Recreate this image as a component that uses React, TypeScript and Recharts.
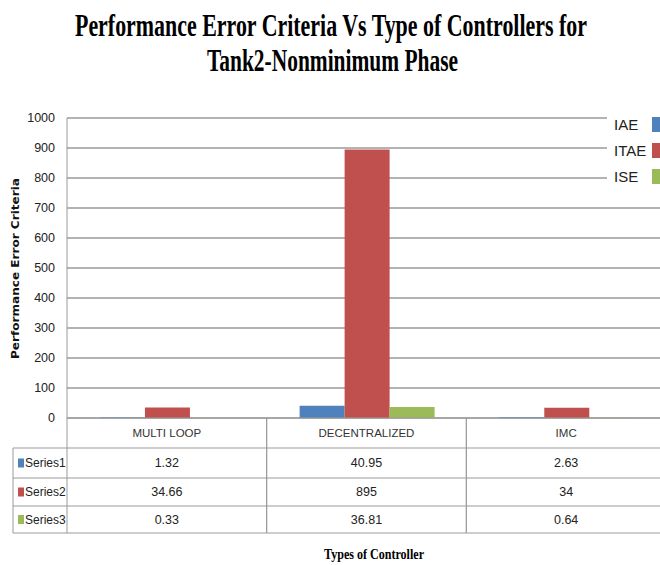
import { BarChart, Bar, XAxis, YAxis, CartesianGrid, Legend } from 'recharts';

const controllers = ['MULTI LOOP', 'DECENTRALIZED', 'IMC'];
const iaeValues = [1.32, 40.95, 2.63];
const itaeValues = [34.66, 895, 34];
const iseValues = [0.33, 36.81, 0.64];
const seriesNames = ['IAE', 'ITAE', 'ISE'];
const tableLabels = ['Series1', 'Series2', 'Series3'];
const yTicks = [0, 100, 200, 300, 400, 500, 600, 700, 800, 900, 1000];

const colors = ['#4F81BD', '#C0504D', '#9BBB59'];
const seriesValues = [iaeValues, itaeValues, iseValues];
const keys = ['iae', 'itae', 'ise'];

const data = controllers.map((name, i) => ({
  name,
  iae: iaeValues[i],
  itae: itaeValues[i],
  ise: iseValues[i],
}));

const sansFont = '"Liberation Sans Narrow", "Liberation Sans", Arial, sans-serif';
const lineColor = '#9a9a9a';
// table row edges, measured down from the x axis line
const rowEdges = [0, 30, 60, 88, 115];

function TableTick(props: any) {
  const { x, y, payload } = props;
  const idx = payload?.index ?? props.index ?? 0;
  const half = typeof payload?.offset === 'number' && payload.offset > 0 ? payload.offset : 100;
  const left = x - half;
  const right = x + half;
  const mid = (a: number, b: number) => y + (rowEdges[a] + rowEdges[b]) / 2;
  return (
    <g>
      <line x1={left} x2={left} y1={y} y2={y + rowEdges[4]} stroke={lineColor} />
      <line x1={right} x2={right} y1={y} y2={y + rowEdges[4]} stroke={lineColor} />
      {rowEdges.slice(1).map((r) => (
        <line key={r} x1={left} x2={right} y1={y + r} y2={y + r} stroke={lineColor} />
      ))}
      <text x={x} y={mid(0, 1)} textAnchor="middle" dominantBaseline="central" fontSize={11.5} fill="#333" fontFamily={sansFont}>
        {payload.value}
      </text>
      {seriesValues.map((vals, s) => (
        <text key={s} x={x} y={mid(s + 1, s + 2)} textAnchor="middle" dominantBaseline="central" fontSize={12.5} fill="#222" fontFamily={sansFont}>
          {String(vals[idx])}
        </text>
      ))}
      {idx === 0 && (
        <g>
          <line x1={left - 54} x2={left - 54} y1={y + rowEdges[1]} y2={y + rowEdges[4]} stroke={lineColor} />
          {rowEdges.slice(1).map((r) => (
            <line key={r} x1={left - 54} x2={left} y1={y + r} y2={y + r} stroke={lineColor} />
          ))}
          {tableLabels.map((lab, s) => (
            <g key={lab}>
              <rect x={left - 49} y={mid(s + 1, s + 2) - 4.5} width={6} height={9} fill={colors[s]} />
              <text x={left - 42} y={mid(s + 1, s + 2)} dominantBaseline="central" fontSize={12} fill="#222" fontFamily={sansFont}>
                {lab}
              </text>
            </g>
          ))}
        </g>
      )}
    </g>
  );
}

function LegendBox(props: any) {
  const items = [...(props.payload || [])].sort(
    (a: any, b: any) => seriesNames.indexOf(a.value) - seriesNames.indexOf(b.value)
  );
  return (
    <div style={{ background: '#fff', width: 73, paddingLeft: 7, boxSizing: 'border-box' }}>
      {items.map((it: any) => (
        <div key={it.value} style={{ display: 'flex', alignItems: 'center', height: 26 }}>
          <span style={{ width: 38, fontSize: 15, color: '#222', fontFamily: sansFont }}>{it.value}</span>
          <span style={{ width: 15, height: 15, background: it.color, display: 'inline-block' }} />
        </div>
      ))}
    </div>
  );
}

export default function App() {
  return (
    <div style={{ position: 'absolute', left: 0, top: 0, width: 660, height: 565, overflow: 'hidden', background: '#fff' }}>
      <BarChart
        width={680}
        height={565}
        data={data}
        margin={{ top: 118, right: 14, bottom: 27, left: 0 }}
        barCategoryGap="16.5%"
        barGap={0}
      >
        <CartesianGrid vertical={false} stroke={lineColor} strokeWidth={1.3} />
        <XAxis
          dataKey="name"
          height={120}
          interval={0}
          tickSize={0}
          tickMargin={0}
          axisLine={{ stroke: lineColor }}
          tick={<TableTick />}
        />
        <YAxis
          width={67}
          domain={[0, 1000]}
          ticks={yTicks}
          tickSize={0}
          tickMargin={12}
          axisLine={{ stroke: lineColor }}
          tick={{ fill: '#222', fontSize: 12.5, fontFamily: sansFont }}
        />
        <Legend
          layout="vertical"
          align="center"
          verticalAlign="middle"
          wrapperStyle={{ left: 607, top: 111, width: 73 }}
          content={<LegendBox />}
        />
        {keys.map((k, s) => (
          <Bar key={k} dataKey={k} name={seriesNames[s]} fill={colors[s]} isAnimationActive={false} />
        ))}
      </BarChart>
      <svg width={660} height={565} style={{ position: 'absolute', left: 0, top: 0, pointerEvents: 'none' }}>
        <g fontFamily='"Liberation Serif", "Times New Roman", serif' fontWeight="bold" fill="#000">
          <text x={75} y={36} fontSize={31} textLength={512} lengthAdjust="spacingAndGlyphs">
            Performance Error Criteria Vs Type of Controllers for
          </text>
          <text x={207} y={71} fontSize={31} textLength={251} lengthAdjust="spacingAndGlyphs">
            Tank2-Nonminimum Phase
          </text>
          <text x={324} y={559} fontSize={15} textLength={100} lengthAdjust="spacingAndGlyphs">
            Types of Controller
          </text>
        </g>
        <text
          transform="translate(19,359) rotate(-90)"
          x={0}
          y={0}
          fontSize={11}
          fontWeight="bold"
          fontFamily='"DejaVu Sans", Verdana, sans-serif'
          fill="#111"
          textLength={181}
          lengthAdjust="spacingAndGlyphs"
        >
          Performance Error Criteria
        </text>
      </svg>
    </div>
  );
}
